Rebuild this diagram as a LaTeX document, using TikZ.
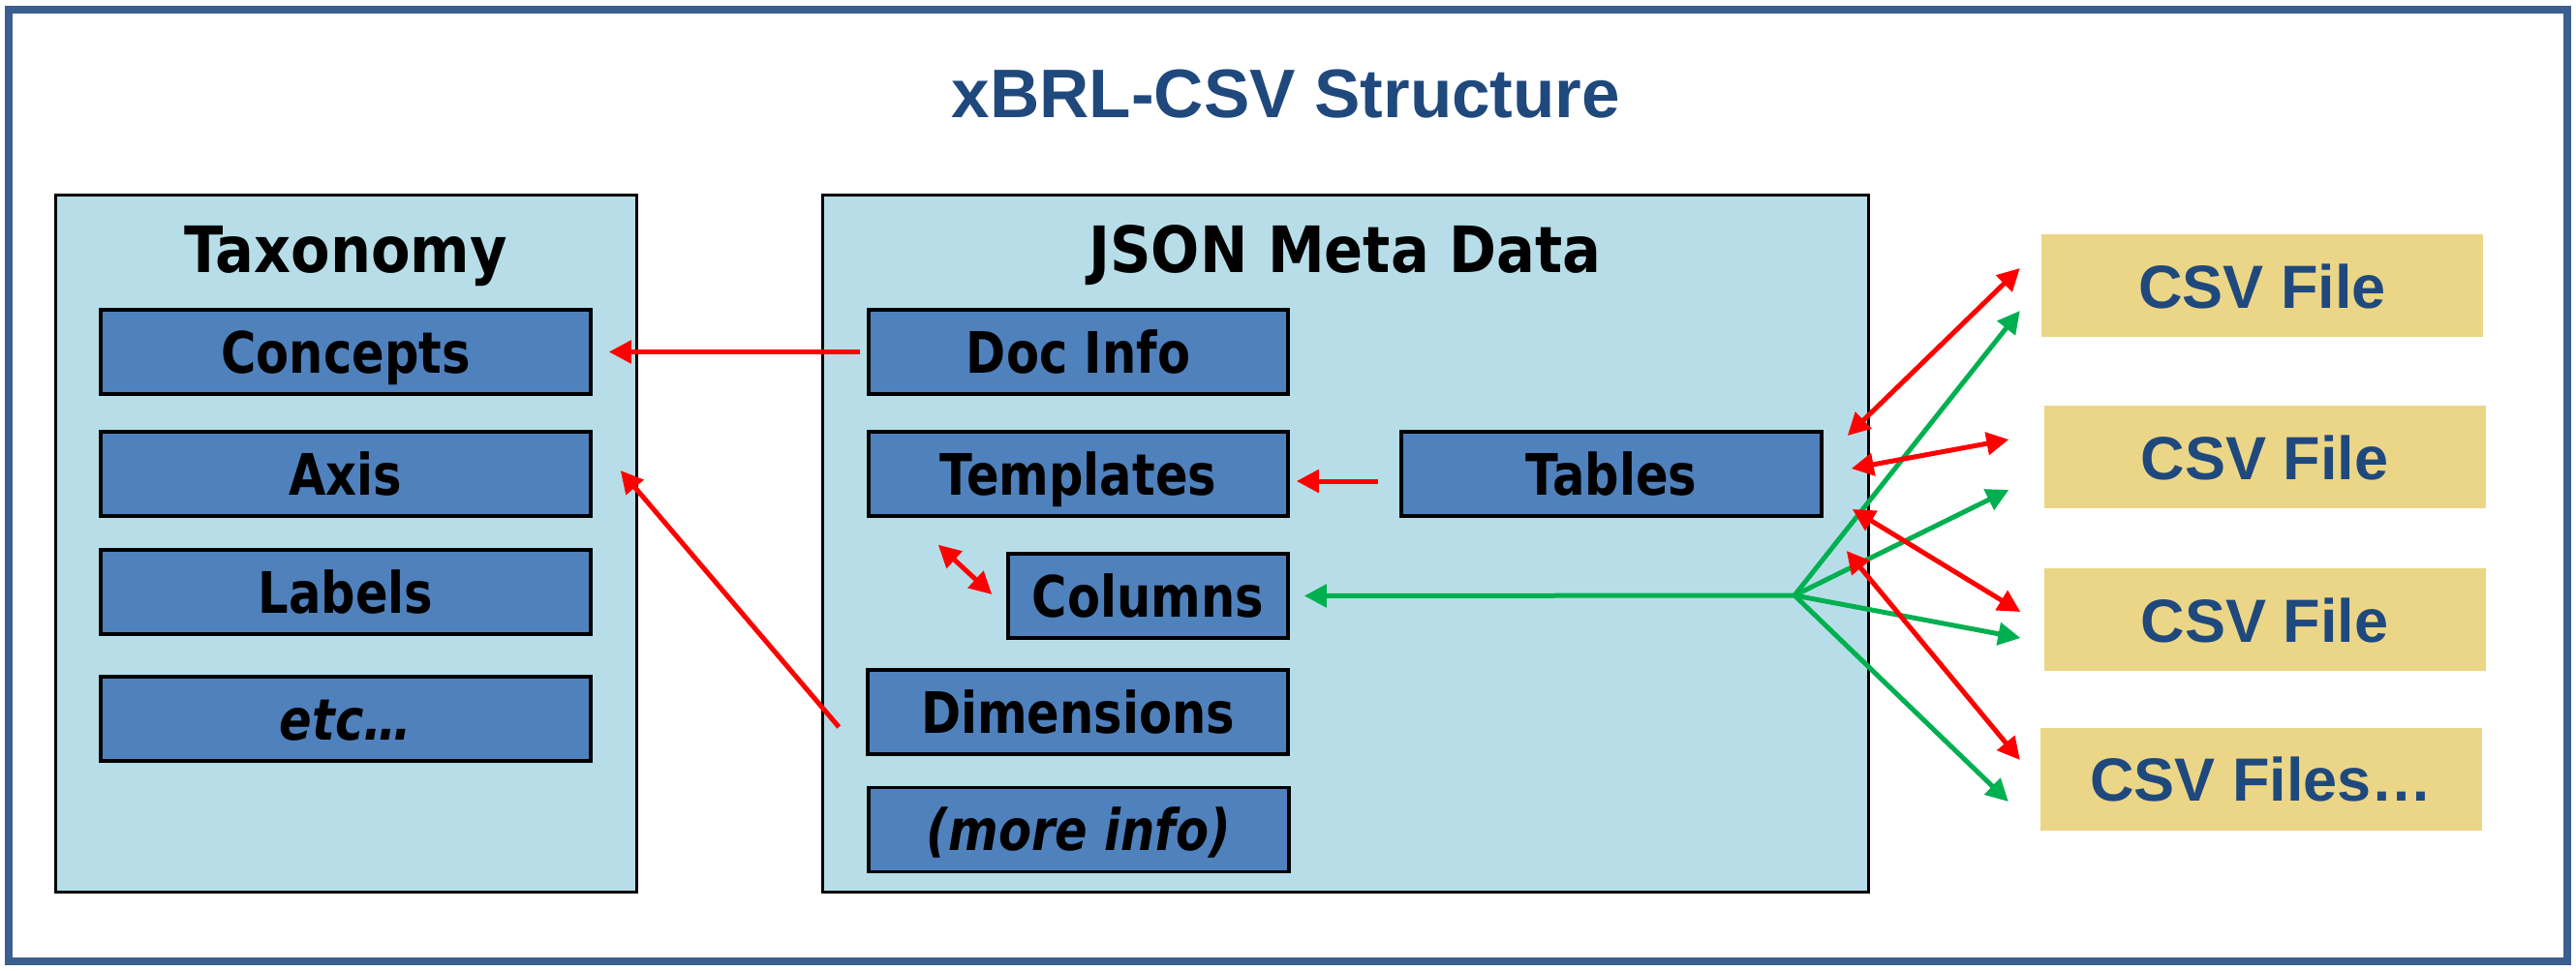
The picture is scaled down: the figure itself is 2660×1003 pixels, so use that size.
\documentclass[tikz,border=0pt]{standalone}
\usepackage{fontspec}
\usetikzlibrary{arrows.meta}
\newfontfamily\tahfont[FakeStretch=0.84]{DejaVu Sans}
\newfontfamily\tahwfont[FakeStretch=0.895]{DejaVu Sans}
\newfontfamily\arlfont{Liberation Sans}
\definecolor{framec}{HTML}{3B5F8F}
\definecolor{titlec}{HTML}{1F497D}
\definecolor{lightc}{HTML}{B7DEE8}
\definecolor{boxc}{HTML}{4F81BD}
\definecolor{csvc}{HTML}{EBD687}
\definecolor{redc}{HTML}{FF0000}
\definecolor{greenc}{HTML}{00B050}
\begin{document}
\begin{tikzpicture}[x=1pt,y=-1pt,
  container/.style={draw=black, line width=3pt, fill=lightc, inner sep=0pt, minimum height=719pt},
  contitle/.style={anchor=base, inner sep=0pt, font=\tahwfont\bfseries\fontsize{66}{70}\selectfont},
  bluebox/.style={draw=black, line width=3.5pt, fill=boxc, inner sep=0pt, minimum height=87pt,
    text height=43pt, text depth=0pt, font=\tahfont\bfseries\fontsize{59}{60}\selectfont},
  csvbox/.style={fill=csvc, inner sep=0pt, minimum width=456pt, minimum height=106pt,
    text height=46pt, text depth=0pt, text=titlec, font=\arlfont\bfseries\fontsize{63}{66}\selectfont},
  tip/.tip={Triangle[length=23pt,width=23pt]},
  redarr/.style={draw=redc, line width=5pt, -tip},
  reddbl/.style={draw=redc, line width=5pt, tip-tip},
  greenarr/.style={draw=greenc, line width=5pt, -tip}
]
\useasboundingbox (0,0) rectangle (2660,1003);
\fill[white] (0,0) rectangle (2660,1003);
\draw[framec, line width=8pt] (9,10) rectangle (2651,993);

\node[anchor=base, inner sep=0pt, text=titlec, font=\arlfont\bfseries\fontsize{71}{75}\selectfont] (title) at (1328,122) {xBRL-CSV Structure};

% containers
\node[container, minimum width=600pt] (tax) at (357,561.5) {};
\node[container, minimum width=1080pt] (json) at (1389,561.5) {};
\node[contitle] (taxt) at (357,281) {Taxonomy};
\node[contitle] (jsont) at (1389,281) {JSON Meta Data};

% taxonomy items
\node[bluebox, minimum width=506pt] (concepts) at (357,363.5) {Concepts};
\node[bluebox, minimum width=506pt] (axis) at (357,489.5) {Axis};
\node[bluebox, minimum width=506pt] (labels) at (357,611.5) {Labels};
\node[bluebox, minimum width=506pt] (etc) at (357,742.5) {\itshape etc…};

% json items
\node[bluebox, minimum width=433pt] (docinfo) at (1113.5,363.5) {Doc Info};
\node[bluebox, minimum width=433pt] (templates) at (1113.5,489.5) {Templates};
\node[bluebox, minimum width=289pt] (columns) at (1185.5,615.5) {Columns};
\node[bluebox, minimum width=434pt] (dims) at (1113,735.5) {Dimensions};
\node[bluebox, minimum width=434pt] (more) at (1114,857) {\itshape (more info)};
\node[bluebox, minimum width=434pt] (tables) at (1664,489.5) {Tables};

% csv files
\node[csvbox] (csv1) at (2336,295) {CSV File};
\node[csvbox] (csv2) at (2338.5,472) {CSV File};
\node[csvbox] (csv3) at (2338.5,640) {CSV File};
\node[csvbox] (csv4) at (2335,804.5) {CSV Files…};

% red arrows inside
\draw[redarr] ([shift={(-7,0)}]docinfo.west) -- ([shift={(17,0)}]concepts.east);
\draw[redarr] ([shift={(-28,15.5)}]dims.west) -- ([shift={(29,-3.5)}]axis.east);
\draw[redarr] ([shift={(-22,7.5)}]tables.west) -- ([shift={(7,7.5)}]templates.east);
\draw[reddbl] ([shift={(-70.5,-52.8)}]columns.west) -- ([shift={(-15,-1.5)}]columns.west);

% green hub
\coordinate (hub) at (1853,615);
\draw[greenarr] (hub) -- ([shift={(15,0)}]columns.east);
\draw[greenarr] (hub) -- ([shift={(-22,26)}]csv1.west);
\draw[greenarr] (hub) -- ([shift={(-36,34)}]csv2.west);
\draw[greenarr] (hub) -- ([shift={(-24,19)}]csv3.west);
\draw[greenarr] (hub) -- ([shift={(-33,23.5)}]csv4.west);

% red double arrows tables <-> csv
\draw[reddbl] ([shift={(25,-39.5)}]tables.east) -- ([shift={(-22,-18)}]csv1.west);
\draw[reddbl] ([shift={(29,-5.5)}]tables.east) -- ([shift={(-36,-18)}]csv2.west);
\draw[reddbl] ([shift={(30,36.5)}]tables.east) -- ([shift={(-24,-8)}]csv3.west);
\draw[reddbl] ([shift={(24,79.5)}]tables.east) -- ([shift={(-21,-19.5)}]csv4.west);
\end{tikzpicture}
\end{document}
